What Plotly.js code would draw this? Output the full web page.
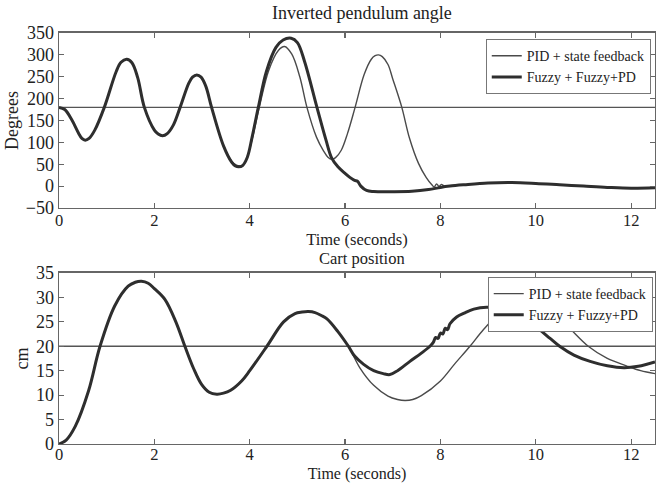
<!DOCTYPE html>
<html>
<head>
<meta charset="utf-8">
<script src="https://cdn.plot.ly/plotly-3.0.1.min.js"></script>
<style>html,body{margin:0;padding:0;background:#fff;}#chart{width:658px;height:483px;}</style>
</head>
<body>
<div id="chart"></div>
<script>
// ---- Data ----
// Inverted pendulum angle (degrees)
const angleFuzzyT = [0,0.12,0.27,0.41,0.48,0.55,0.63,0.75,0.95,1.2,1.3,1.42,1.53,1.65,1.79,2.0,2.08,2.17,2.27,2.4,2.54,2.72,2.8,2.89,2.98,3.08,3.2,3.45,3.62,3.7,3.77,3.85,3.95,4.05,4.18,4.35,4.55,4.7,4.87,5.0,5.15,5.41,5.6,5.72,5.85,6.0,6.1,6.2,6.26,6.33,6.45,6.6,7.0,7.4,7.75,8.0,8.2,8.5,9.0,9.5,10.0,10.5,11.0,11.5,12.0,12.5];
const angleFuzzy  = [180,175,151,121,109,105,109,128,180,262,283,290,282,248,180,128,119,115,120,140,180,235,249,254,249,228,180,92,55,46,44,47,66,112,180,262,317,334,338,328,285,180,105,64,44,29,20,13,11,0,-10,-12.5,-13,-12,-8,-3,0,3,7,8,6,3,0,-3,-5,-4];

const anglePidT = [0,0.12,0.27,0.41,0.48,0.55,0.63,0.75,0.95,1.2,1.3,1.42,1.53,1.65,1.79,2.0,2.08,2.17,2.27,2.4,2.54,2.72,2.8,2.89,2.98,3.08,3.2,3.45,3.62,3.72,3.8,3.88,4.0,4.2,4.4,4.6,4.73,4.88,5.05,5.2,5.4,5.55,5.64,5.72,5.8,5.92,6.05,6.21,6.4,6.55,6.63,6.7,6.78,6.9,7.0,7.19,7.35,7.54,7.7,7.82,7.87,7.92,7.97,8.02,8.08,8.2,8.5,9.0,9.5,10.0,10.5,11.0,11.5,12.0,12.5];
const anglePid  = [180,175,151,121,109,105,109,128,180,262,283,290,282,248,180,128,119,115,120,140,180,235,249,254,249,228,180,92,57,48,46,50,85,180,265,310,319,302,250,180,112,80,66,61,65,82,120,180,255,290,298,300,296,278,245,180,110,52,20,3,-2,5,-1,4,0,1,3,7,8,6,3,0,-3,-5,-4];

// Cart position (cm)
const cartFuzzyT = [0,0.15,0.34,0.62,0.86,1.17,1.45,1.6,1.73,1.87,2.0,2.22,2.45,2.64,2.82,2.99,3.15,3.31,3.45,3.6,3.83,4.0,4.36,4.71,4.95,5.1,5.23,5.37,5.5,5.62,5.85,6.07,6.2,6.39,6.6,6.8,6.94,7.1,7.36,7.6,7.78,7.85,7.9,7.95,8.0,8.05,8.1,8.15,8.2,8.34,8.5,8.7,8.97,9.2,9.46,9.8,10.09,10.3,10.5,10.8,11.14,11.5,11.85,12.15,12.5];
const cartFuzzy  = [0,0.8,3.6,10.9,20,28.3,32.3,33.1,33.3,32.9,31.8,29.6,25,20,15.5,12.2,10.6,10.2,10.4,11,12.9,15,20,25,26.7,27.0,27.1,26.9,26.3,25.6,23,20,18,16.3,15,14.4,14.2,15,16.9,18.6,20,20.8,21.8,21.6,22.7,22.5,23.7,23.4,24.6,26,26.8,27.6,28,27.8,27.1,25.3,23.3,21.6,20,18.2,16.9,16,15.6,15.9,16.8];

const cartPidT = [0,0.15,0.34,0.62,0.86,1.17,1.45,1.6,1.73,1.87,2.0,2.22,2.45,2.64,2.82,2.99,3.15,3.31,3.45,3.6,3.83,4.0,4.36,4.71,4.95,5.1,5.23,5.37,5.5,5.62,5.85,6.07,6.31,6.6,6.9,7.1,7.26,7.42,7.6,8.0,8.3,8.62,8.9,9.15,9.45,9.65,9.84,10.0,10.2,10.6,11.1,11.5,11.9,12.2,12.5];
const cartPid  = [0,0.8,3.6,10.9,20,28.3,32.3,33.1,33.3,32.9,31.8,29.6,25,20,15.5,12.2,10.6,10.2,10.4,11,12.9,15,20,25,26.7,27.0,27.1,26.9,26.3,25.6,23,20,15.6,12,9.8,9.1,8.9,9.1,9.9,12.9,16.4,20,23.4,25.8,27.4,27.9,28.1,27.9,27.1,24.6,20,17.5,16,15,14.4];

const timeRange = [0, 12.5];
const angleSetpoint = 180;
const cartSetpoint = 20;
const angleTicks = [-50,0,50,100,150,200,250,300,350];
const cartTicks = [0,5,10,15,20,25,30,35];
const timeTicks = [0,2,4,6,8,10,12];
const seriesNames = ['PID + state feedback', 'Fuzzy + Fuzzy+PD'];

// ---- Styling ----
const FONT = 'Liberation Serif, Times New Roman, serif';
const thin = {color:'#4a4a4a', width:1.4, shape:'spline', smoothing:1};
const thick = {color:'#2e2e2e', width:3, shape:'spline', smoothing:1};
const setLine = {color:'#555', width:1.4};

const traces = [
  {x: timeRange, y:[angleSetpoint, angleSetpoint], xaxis:'x', yaxis:'y', mode:'lines', line:setLine, showlegend:false, hoverinfo:'skip'},
  {x: anglePidT, y: anglePid, xaxis:'x', yaxis:'y', mode:'lines', name: seriesNames[0], line: thin, legend:'legend'},
  {x: angleFuzzyT, y: angleFuzzy, xaxis:'x', yaxis:'y', mode:'lines', name: seriesNames[1], line: thick, legend:'legend'},
  {x: timeRange, y:[cartSetpoint, cartSetpoint], xaxis:'x2', yaxis:'y2', mode:'lines', line:setLine, showlegend:false, hoverinfo:'skip'},
  {x: cartPidT, y: cartPid, xaxis:'x2', yaxis:'y2', mode:'lines', name: seriesNames[0], line: thin, legend:'legend2'},
  {x: cartFuzzyT, y: cartFuzzy, xaxis:'x2', yaxis:'y2', mode:'lines', name: seriesNames[1], line: thick, legend:'legend2'}
];

const TXT = {family:FONT, size:18, color:'#222'};
const XTXT = {family:FONT, size:16.5, color:'#222'};
const XTXT2 = {family:FONT, size:16, color:'#222'};

const axisCommon = {
  showline:true, linecolor:'#666', linewidth:1.5, mirror:'ticks',
  ticks:'inside', ticklen:5, tickcolor:'#666', tickwidth:1.2,
  showgrid:false, zeroline:false,
  tickfont:TXT
};
const xCommon = Object.assign({}, axisCommon, {tickfont:XTXT, ticklabelstandoff:-3});

const legendCommon = {
  bgcolor:'rgba(255,255,255,1)', bordercolor:'#777', borderwidth:1,
  font:{family:FONT, size:14, color:'#222'}, xanchor:'right', yanchor:'top',
  tracegroupgap:0, itemwidth:30
};

const layout = {
  width:658, height:483,
  margin:{l:0, r:0, t:0, b:0},
  paper_bgcolor:'#fff', plot_bgcolor:'#fff',
  font:{family:FONT, color:'#222'},
  title:{text:'Inverted pendulum angle', font:TXT, x:0.55, xanchor:'center', y:0.973, yanchor:'middle'},
  xaxis: Object.assign({}, xCommon, {domain:[0.0897, 0.9954], range: timeRange, tickvals: timeTicks, anchor:'y',
    title:{text:'Time (seconds)', font:XTXT, standoff:0}}),
  yaxis: Object.assign({}, axisCommon, {domain:[0.5694, 0.9317], range:[-50,350], tickvals: angleTicks, anchor:'x',
    title:{text:'Degrees', font:TXT, standoff:2}}),
  xaxis2: Object.assign({}, xCommon, {domain:[0.0897, 0.9954], range: timeRange, tickvals: timeTicks, anchor:'y2',
    ticklabelstandoff:-5, title:{text:'Time (seconds)', font:XTXT2, standoff:4}}),
  yaxis2: Object.assign({}, axisCommon, {domain:[0.0808, 0.4348], range:[0,35], tickvals: cartTicks, anchor:'x2',
    title:{text:'cm', font:TXT, standoff:2}}),
  legend: Object.assign({}, legendCommon, {x:0.989, y:0.919}),
  legend2: Object.assign({}, legendCommon, {x:0.992, y:0.4265}),
  annotations:[
    {text:'Cart position', xref:'paper', yref:'paper', x:0.55, y:(483-258)/483, xanchor:'center', yanchor:'middle', showarrow:false,
     font:XTXT}
  ],
  showlegend:true
};

Plotly.newPlot('chart', traces, layout, {displayModeBar:false, staticPlot:true});
</script>
</body>
</html>
